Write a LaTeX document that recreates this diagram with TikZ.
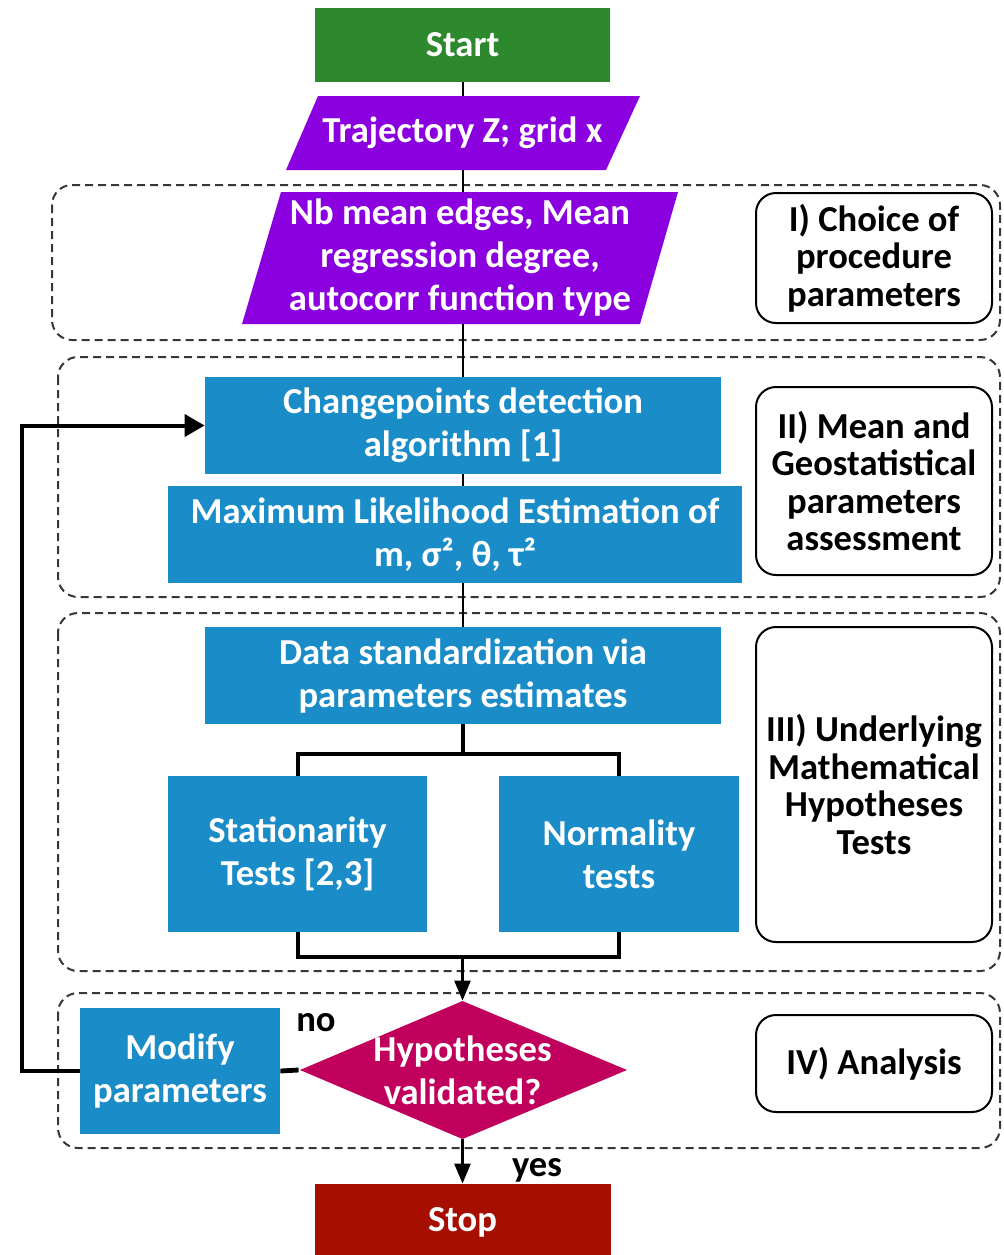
\documentclass[tikz,border=0pt]{standalone}
\usepackage{fontspec}
\setmainfont{Carlito}
\usetikzlibrary{arrows.meta}
\definecolor{cgreen}{RGB}{46,137,46}
\definecolor{cpurple}{RGB}{139,0,222}
\definecolor{cblue}{RGB}{26,140,200}
\definecolor{cmag}{RGB}{192,0,92}
\definecolor{cred}{RGB}{166,14,0}
\definecolor{cdash}{RGB}{55,55,55}
\begin{document}
\begin{tikzpicture}[x=0.5pt,y=-0.5pt,
  font=\bfseries\fontsize{18.3}{21.5}\selectfont,
  sz/.style 2 args={minimum width=#1*0.5pt, minimum height=#2*0.5pt},
  box/.style={inner sep=0pt, align=center, text=white},
  bluebox/.style={box, fill=cblue},
  lbl/.style={draw=black, line width=1pt, rounded corners=10pt, inner sep=0pt, align=center,
    font=\bfseries\fontsize{18.3}{18.8}\selectfont},
  region/.style={draw=cdash, line width=1pt, dash pattern=on 4pt off 2.5pt, rounded corners=10pt},
  trunk/.style={draw=black, line width=1pt},
  conn/.style={draw=black, line width=2pt},
  arr/.style={draw=black, line width=1.3pt, -{Triangle[length=10pt,width=8pt]}},
  fb/.style={draw=black, line width=2pt},
  fbarr/.style={fb, -{Triangle[length=10pt,width=11pt]}}
]
\useasboundingbox (0,0) rectangle (1004,1255);

% dashed regions
\draw[region] (52,185) rectangle (1000,340);
\draw[region] (58,357) rectangle (1000,597);
\draw[region] (58,613) rectangle (1000,971);
\draw[region] (58,993) rectangle (1000,1148);

% label boxes
\node[lbl, sz={236}{130}] (l1) at (874,258) {I) Choice of\\procedure\\parameters};
\node[lbl, sz={236}{188}] (l2) at (874,481) {II) Mean and\\Geostatistical\\parameters\\assessment};
\node[lbl, sz={236}{315}] (l3) at (874,784.5) {III) Underlying\\Mathematical\\Hypotheses\\Tests};
\node[lbl, sz={236}{97}] (l4) at (874,1063.5) {IV) Analysis};

% start
\node[box, fill=cgreen, sz={295}{74}] (start) at (462.5,45) {Start};

% parallelograms
\fill[cpurple] (318,96) -- (640,96) -- (606,170) -- (286,170) -- cycle;
\node[box, sz={325}{74}] (traj) at (462.5,133) {Trajectory Z; grid x};
\fill[cpurple] (281,192) -- (678,192) -- (640,324) -- (242,324) -- cycle;
\node[box, sz={396}{132}] (nb) at (460,258) {Nb mean edges, Mean\\regression degree,\\autocorr function type};

% blue boxes
\node[bluebox, sz={516}{97}] (cp) at (463,425.5) {Changepoints detection\\algorithm [1]};
\node[bluebox, sz={574}{97}] (mle) at (455,534.5) {Maximum Likelihood Estimation of\\m, σ², θ, τ²};
\node[bluebox, sz={516}{97}] (ds) at (463,675.5) {Data standardization via\\parameters estimates};
\node[bluebox, sz={259}{156}] (st) at (297.5,854) {Stationarity\\Tests [2,3]};
\node[bluebox, sz={240}{156}] (nt) at (619,854) {Normality\\tests};
\node[bluebox, sz={200}{126}] (mod) at (180,1071) {Modify\\parameters};

% diamond
\fill[cmag] (462.5,1001) -- (627,1070) -- (462.5,1139) -- (300,1070) -- cycle;
\node[box, sz={327}{138}] (dia) at (462.5,1070) {Hypotheses\\validated?};

% stop
\node[box, fill=cred, sz={296}{76}] (stop) at (462.5,1222) {Stop};

% labels
\node[inner sep=0pt] (nolbl) at (316,1023) {no};
\node[inner sep=0pt] (yeslbl) at (537,1170) {yes};

% connectors
\coordinate (split) at (462.5,754);
\coordinate (join) at (462.5,957);
\draw[trunk] (start.south) -- (start.south |- traj.north);
\draw[trunk] (start.south |- traj.south) -- (start.south |- nb.north);
\draw[trunk] (start.south |- nb.south) -- (start.south |- cp.north);
\draw[trunk] (start.south |- cp.south) -- (start.south |- mle.north);
\draw[trunk] (start.south |- mle.south) -- (start.south |- ds.north);
\draw[conn] (start.south |- ds.south) -- (split);
\draw[conn] (st.north) |- (split) -| (nt.north);
\draw[conn] (st.south) |- (join) -| (nt.south);
\draw[arr] (join) -- (dia.north);
\draw[arr] (dia.south) -- (stop.north);
\draw[fb, line width=2.4pt] (dia.west) -- (mod.east);
\draw[fbarr] (mod.west) -- ++(-58,0) |- (cp.west);
\end{tikzpicture}
\end{document}
